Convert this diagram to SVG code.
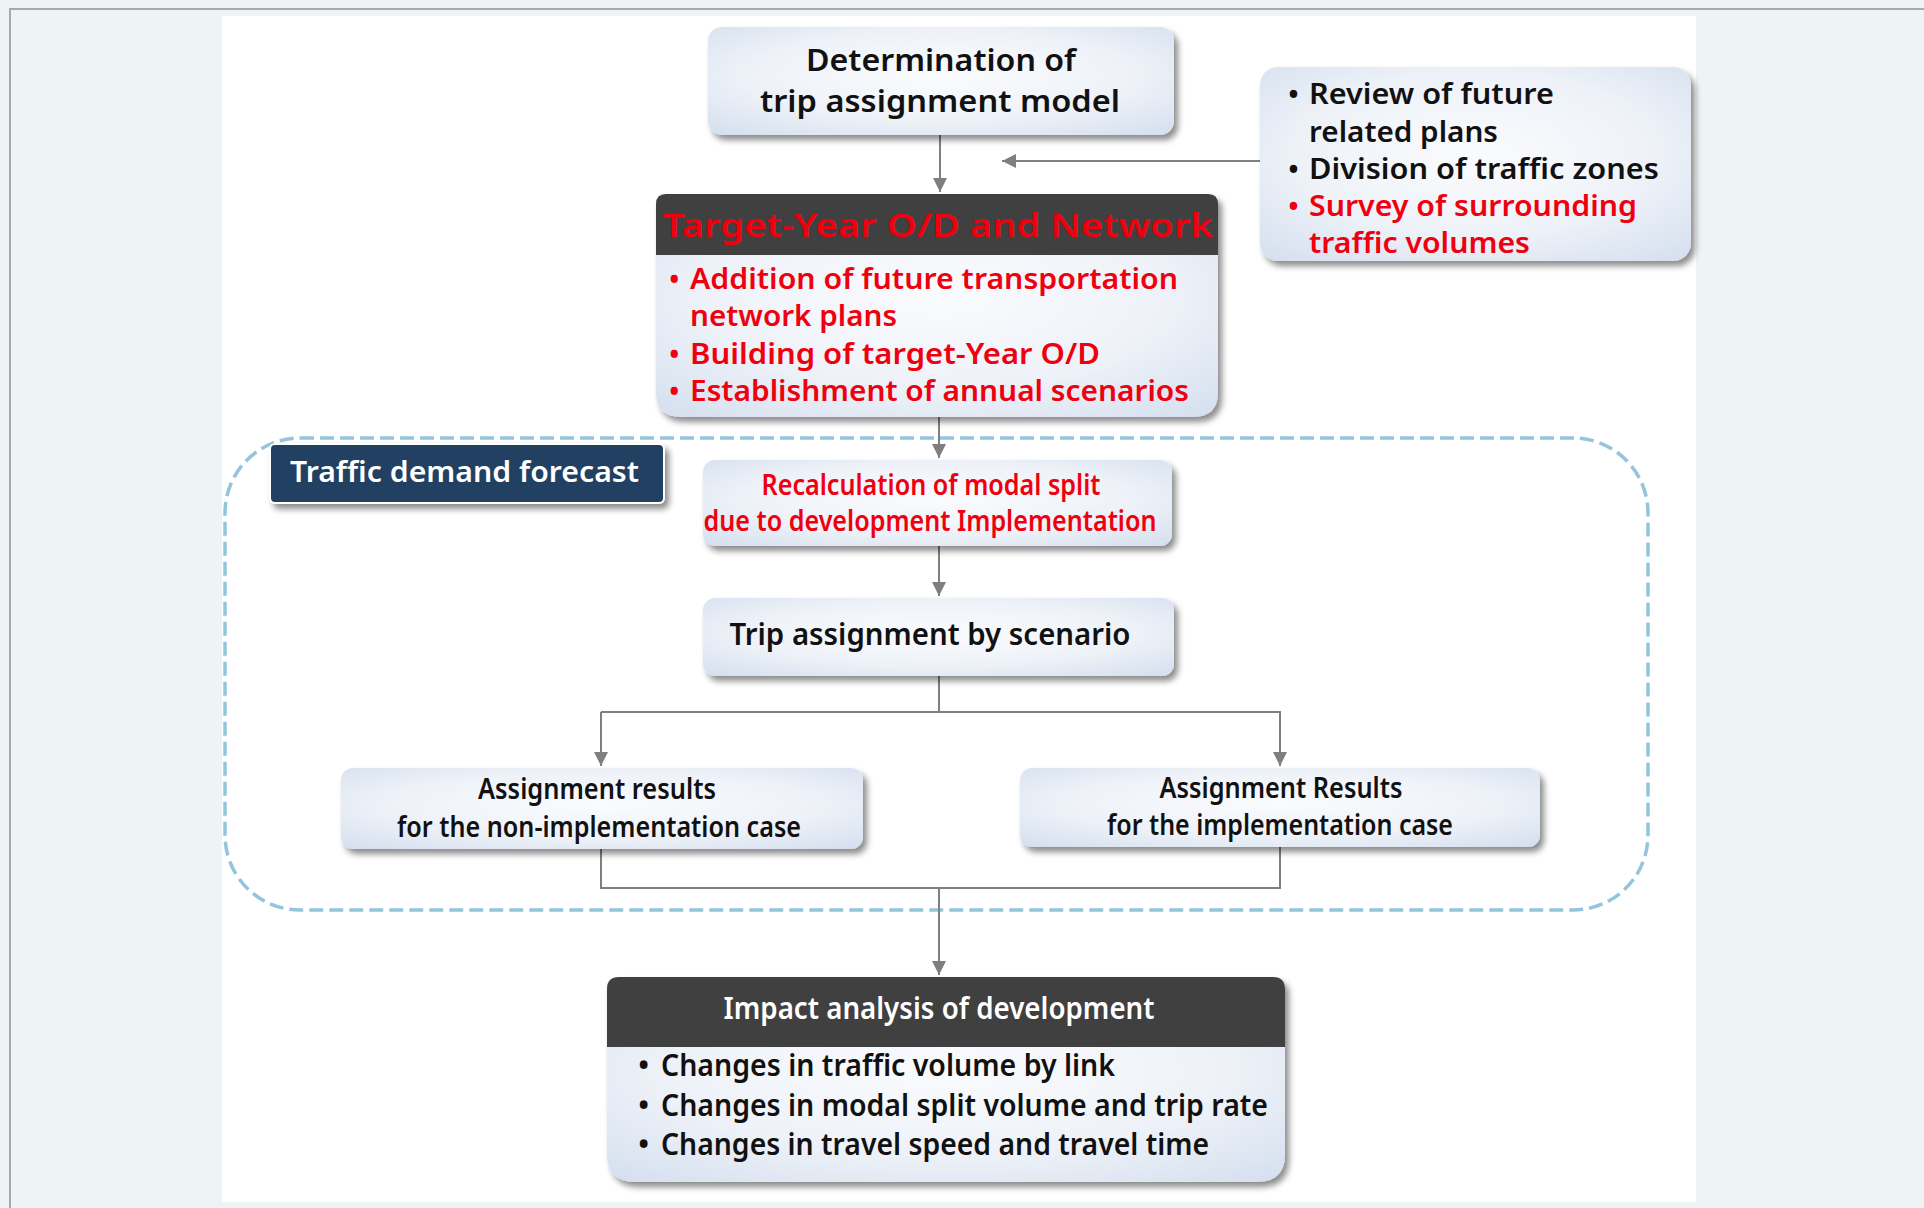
<svg xmlns="http://www.w3.org/2000/svg" width="1924" height="1208" viewBox="0 0 1924 1208">
  <defs>
    <radialGradient id="boxg" cx="50%" cy="45%" r="75%">
      <stop offset="0" stop-color="#FAFBFD"/>
      <stop offset="0.55" stop-color="#EEF2F8"/>
      <stop offset="1" stop-color="#D3DEEE"/>
    </radialGradient>
    <filter id="sh" x="-10%" y="-10%" width="125%" height="135%">
      <feDropShadow dx="4" dy="5" stdDeviation="3" flood-color="#000" flood-opacity="0.45"/>
    </filter>
    <marker id="ah" markerUnits="userSpaceOnUse" markerWidth="14" markerHeight="16" refX="14" refY="7" orient="auto">
      <path d="M0,0 L14,7 L0,14 Z" fill="#7F7F7F"/>
    </marker>
    <style>
      .box { fill: url(#boxg); filter: url(#sh); }
      .t { font-family: "Noto Sans", "Open Sans", "Liberation Sans", sans-serif; font-weight: 600; }
      .blk { fill: #111; }
      .red { fill: #F0000F; }
      .wht { fill: #FFFFFF; }
      .c { text-anchor: middle; }
      .con { stroke: #7F7F7F; stroke-width: 2; fill: none; }
    </style>
  </defs>

  <!-- page -->
  <rect x="0" y="0" width="1924" height="1208" fill="#EEF3F3"/>
  <path d="M10,1208 L10,9 L1924,9" fill="none" stroke="#A8ABAB" stroke-width="2"/>
  <rect x="222" y="16" width="1474" height="1186" fill="#FFFFFF"/>

  <!-- container -->
  <g id="traffic-demand-forecast">
    <rect x="225" y="438" width="1423" height="472" rx="75" ry="75" fill="none" stroke="#93C6DD" stroke-width="3.5" stroke-dasharray="14 6"/>
    <rect x="270" y="444" width="394" height="59" rx="5" fill="#243F62" stroke="#FFFFFF" stroke-width="2" filter="url(#sh)"/>
    <text class="t wht" x="290" y="482" font-size="29" textLength="349" lengthAdjust="spacingAndGlyphs">Traffic demand  forecast</text>
  </g>

  <!-- connectors -->
  <g id="connectors">
    <line class="con" x1="940" y1="135" x2="940" y2="192" marker-end="url(#ah)"/>
    <line class="con" x1="1260" y1="161" x2="1002" y2="161" marker-end="url(#ah)"/>
    <line class="con" x1="939" y1="417" x2="939" y2="458" marker-end="url(#ah)"/>
    <line class="con" x1="939" y1="546" x2="939" y2="596" marker-end="url(#ah)"/>
    <line class="con" x1="939" y1="676" x2="939" y2="712"/>
    <path class="con" d="M601,712 L1280,712 L1280,766" marker-end="url(#ah)"/>
    <line class="con" x1="601" y1="712" x2="601" y2="766" marker-end="url(#ah)"/>
    <path class="con" d="M601,849 L601,888 L1280,888 L1280,847"/>
    <line class="con" x1="939" y1="888" x2="939" y2="975" marker-end="url(#ah)"/>
  </g>

  <!-- node 1 -->
  <g id="determination">
    <rect class="box" x="708" y="27" width="466" height="108" rx="14"/>
    <text class="t blk c" x="941" y="71" font-size="30" textLength="270" lengthAdjust="spacingAndGlyphs">Determination of</text>
    <text class="t blk c" x="940" y="112" font-size="30" textLength="360" lengthAdjust="spacingAndGlyphs">trip  assignment model</text>
  </g>

  <!-- side box -->
  <g id="preparation">
    <rect class="box" x="1260" y="67" width="431" height="194" rx="18"/>
    <text class="t blk" x="1288" y="104" font-size="29">•</text>
    <text class="t blk" x="1309" y="104" font-size="29" textLength="245" lengthAdjust="spacingAndGlyphs">Review of future</text>
    <text class="t blk" x="1309" y="142" font-size="29" textLength="189" lengthAdjust="spacingAndGlyphs">related plans</text>
    <text class="t blk" x="1288" y="179" font-size="29">•</text>
    <text class="t blk" x="1309" y="179" font-size="29" textLength="350" lengthAdjust="spacingAndGlyphs">Division of traffic zones</text>
    <text class="t red" x="1288" y="216" font-size="29">•</text>
    <text class="t red" x="1309" y="216" font-size="29" textLength="328" lengthAdjust="spacingAndGlyphs">Survey of surrounding</text>
    <text class="t red" x="1309" y="253" font-size="29" textLength="221" lengthAdjust="spacingAndGlyphs">traffic volumes</text>
  </g>

  <!-- node 3 -->
  <g id="target-year">
    <path class="box" d="M666,194 L1208,194 Q1218,194 1218,204 L1218,392 Q1218,417 1193,417 L681,417 Q656,417 656,392 L656,204 Q656,194 666,194 Z"/>
    <path d="M666,194 L1208,194 Q1218,194 1218,204 L1218,255 L656,255 L656,204 Q656,194 666,194 Z" fill="#404040"/>
    <text class="t red c" x="938" y="237" font-size="32" font-weight="700" textLength="550" lengthAdjust="spacingAndGlyphs">Target-Year  O/D  and  Network</text>
    <text class="t red" x="669" y="289" font-size="28">•</text>
    <text class="t red" x="690" y="289" font-size="28" textLength="488" lengthAdjust="spacingAndGlyphs">Addition of future transportation</text>
    <text class="t red" x="690" y="326" font-size="28" textLength="207" lengthAdjust="spacingAndGlyphs">network plans</text>
    <text class="t red" x="669" y="364" font-size="28">•</text>
    <text class="t red" x="690" y="364" font-size="28" textLength="410" lengthAdjust="spacingAndGlyphs">Building of target-Year O/D</text>
    <text class="t red" x="669" y="401" font-size="28">•</text>
    <text class="t red" x="690" y="401" font-size="28" textLength="499" lengthAdjust="spacingAndGlyphs">Establishment of annual  scenarios</text>
  </g>

  <!-- node 4 -->
  <g id="recalculation">
    <rect class="box" x="703" y="460" width="469" height="86" rx="12"/>
    <text class="t red c" x="931" y="495" font-size="28" textLength="339" lengthAdjust="spacingAndGlyphs">Recalculation of modal split</text>
    <text class="t red c" x="930" y="531" font-size="28" textLength="453" lengthAdjust="spacingAndGlyphs">due to development Implementation</text>
  </g>

  <!-- node 5 -->
  <g id="trip-assignment">
    <rect class="box" x="703" y="598" width="471" height="78" rx="12"/>
    <text class="t blk c" x="930" y="645" font-size="30" textLength="401" lengthAdjust="spacingAndGlyphs">Trip  assignment  by scenario</text>
  </g>

  <!-- node 6 -->
  <g id="non-implementation">
    <rect class="box" x="341" y="768" width="522" height="81" rx="12"/>
    <text class="t blk c" x="597" y="799" font-size="28" textLength="238" lengthAdjust="spacingAndGlyphs">Assignment results</text>
    <text class="t blk c" x="599" y="837" font-size="28" textLength="404" lengthAdjust="spacingAndGlyphs">for the non-implementation case</text>
  </g>

  <!-- node 7 -->
  <g id="implementation">
    <rect class="box" x="1020" y="768" width="520" height="79" rx="12"/>
    <text class="t blk c" x="1281" y="798" font-size="28" textLength="243" lengthAdjust="spacingAndGlyphs">Assignment Results</text>
    <text class="t blk c" x="1280" y="835" font-size="28" textLength="346" lengthAdjust="spacingAndGlyphs">for the implementation case</text>
  </g>

  <!-- node 8 -->
  <g id="impact-analysis">
    <path class="box" d="M619,977 L1273,977 Q1285,977 1285,989 L1285,1154 Q1285,1182 1257,1182 L635,1182 Q607,1182 607,1154 L607,989 Q607,977 619,977 Z"/>
    <path d="M619,977 L1273,977 Q1285,977 1285,989 L1285,1047 L607,1047 L607,989 Q607,977 619,977 Z" fill="#404040"/>
    <text class="t wht c" x="939" y="1019" font-size="30" textLength="431" lengthAdjust="spacingAndGlyphs">Impact analysis of development</text>
    <text class="t blk" x="638" y="1076" font-size="30">•</text>
    <text class="t blk" x="661" y="1076" font-size="30" textLength="454" lengthAdjust="spacingAndGlyphs">Changes in traffic volume by link</text>
    <text class="t blk" x="638" y="1116" font-size="30">•</text>
    <text class="t blk" x="661" y="1116" font-size="30" textLength="607" lengthAdjust="spacingAndGlyphs">Changes in modal split volume and trip rate</text>
    <text class="t blk" x="638" y="1155" font-size="30">•</text>
    <text class="t blk" x="661" y="1155" font-size="30" textLength="548" lengthAdjust="spacingAndGlyphs">Changes in travel speed and travel time</text>
  </g>
</svg>
